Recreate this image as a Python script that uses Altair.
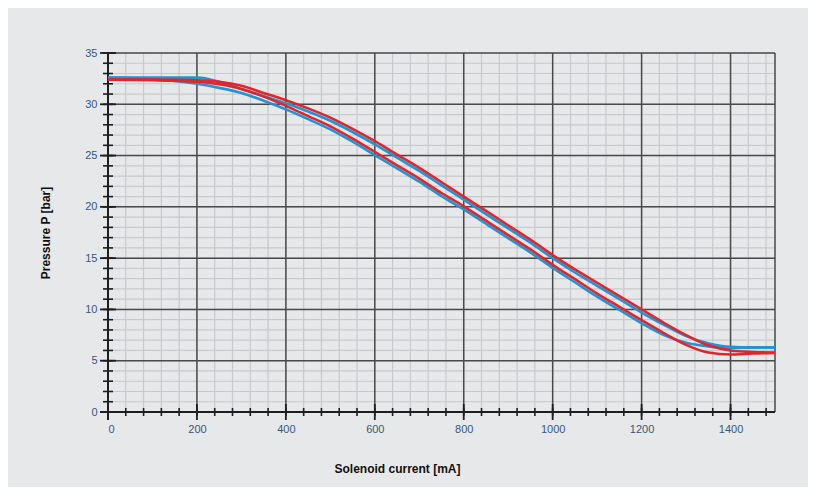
import altair as alt
import pandas as pd

# ---- data ----
current = [0, 100, 200, 250, 300, 350, 400, 450, 500, 550, 600, 650, 700, 750, 800,
           850, 900, 950, 1000, 1050, 1100, 1150, 1200, 1250, 1300, 1350, 1400, 1450, 1500]

red_upper = [32.4, 32.4, 32.35, 32.2, 31.8, 31.1, 30.4, 29.6, 28.7, 27.6, 26.4, 25.1, 23.8, 22.4, 21.0,
             19.6, 18.2, 16.8, 15.3, 13.9, 12.6, 11.3, 10.0, 8.7, 7.5, 6.5, 6.0, 5.85, 5.8]
blue_upper = [32.6, 32.6, 32.6, 32.2, 31.5, 30.8, 30.1, 29.3, 28.4, 27.3, 26.1, 24.8, 23.5, 22.1, 20.7,
              19.3, 17.9, 16.5, 15.0, 13.6, 12.3, 11.0, 9.7, 8.5, 7.4, 6.7, 6.35, 6.3, 6.3]
red_lower = [32.4, 32.35, 32.2, 31.95, 31.5, 30.75, 29.85, 28.85, 27.85, 26.65, 25.35, 24.05, 22.75, 21.35, 20.05,
             18.65, 17.25, 15.85, 14.35, 12.95, 11.55, 10.25, 8.95, 7.7, 6.55, 5.8, 5.6, 5.7, 5.75]
blue_lower = [32.6, 32.45, 32.0, 31.6, 31.1, 30.35, 29.5, 28.55, 27.55, 26.35, 25.05, 23.75, 22.45, 21.05, 19.75,
              18.35, 16.95, 15.55, 14.05, 12.65, 11.25, 9.95, 8.65, 7.5, 6.75, 6.4, 6.25, 6.3, 6.3]

x_labels = [0, 200, 400, 600, 800, 1000, 1200, 1400]
y_labels = [0, 5, 10, 15, 20, 25, 30, 35]
x_minor = list(range(0, 1500, 40))
y_minor = list(range(0, 36, 1))
x_major = [200, 400, 600, 800, 1000, 1200, 1400, 1500]
y_major = [5, 10, 15, 20, 25, 30, 35]

W, H = 667, 359

rows = []
for name, vals in [("red_up", red_upper), ("red_low", red_lower),
                   ("blue_up", blue_upper), ("blue_low", blue_lower)]:
    for c, p in zip(current, vals):
        rows.append({"current": c, "pressure": p, "branch": name})
df = pd.DataFrame(rows)

xs = alt.Scale(domain=[0, 1500], nice=False, zero=True)
ys = alt.Scale(domain=[0, 35], nice=False)

x_axis = alt.Axis(values=x_labels, format="d", grid=False, ticks=False, domain=False, labelPadding=11,
                  labelFontSize=11, labelColor="#34587c", title="Solenoid current [mA]",
                  titleFontSize=12, titleFontWeight="bold", titleColor="#111111",
                  titleX=289, titleY=51, labelFont="Liberation Sans", titleFont="Liberation Sans")
y_axis = alt.Axis(values=y_labels, format="d", grid=False, ticks=False, domain=False, labelPadding=11,
                  labelFontSize=11, labelColor="#34587c", title="Pressure P [bar]",
                  titleFontSize=12, titleFontWeight="bold", titleColor="#111111",
                  titleX=-63, titleY=H / 2, titleBaseline="middle",
                  labelFont="Liberation Sans", titleFont="Liberation Sans")

minor_v = alt.Chart(pd.DataFrame({"v": x_minor})).mark_rule(color="#c6c9cd", strokeWidth=1.2).encode(
    x=alt.X("v:Q", scale=xs, axis=x_axis), y=alt.value(0), y2=alt.value(H))
minor_h = alt.Chart(pd.DataFrame({"v": y_minor})).mark_rule(color="#c6c9cd", strokeWidth=1.2).encode(
    y=alt.Y("v:Q", scale=ys, axis=y_axis), x=alt.value(0), x2=alt.value(W))
major_v = alt.Chart(pd.DataFrame({"v": x_major})).mark_rule(color="#4a4a4a", strokeWidth=1.5).encode(
    x=alt.X("v:Q", scale=xs), y=alt.value(0), y2=alt.value(H))
major_h = alt.Chart(pd.DataFrame({"v": y_major})).mark_rule(color="#4a4a4a", strokeWidth=1.5).encode(
    y=alt.Y("v:Q", scale=ys), x=alt.value(0), x2=alt.value(W))

xt_minor = alt.Chart(pd.DataFrame({"v": x_minor[1:]})).mark_rule(color="#1e1e1e", strokeWidth=1.6).encode(
    x=alt.X("v:Q", scale=xs), y=alt.value(H - 4), y2=alt.value(H + 4))
xt_major = alt.Chart(pd.DataFrame({"v": x_major[:-1]})).mark_rule(color="#1e1e1e", strokeWidth=1.8).encode(
    x=alt.X("v:Q", scale=xs), y=alt.value(H - 8), y2=alt.value(H + 8))
yt_minor = alt.Chart(pd.DataFrame({"v": y_minor[1:]})).mark_rule(color="#1e1e1e", strokeWidth=1.6).encode(
    y=alt.Y("v:Q", scale=ys), x=alt.value(-5), x2=alt.value(5))
yt_major = alt.Chart(pd.DataFrame({"v": y_major})).mark_rule(color="#1e1e1e", strokeWidth=1.8).encode(
    y=alt.Y("v:Q", scale=ys), x=alt.value(-8), x2=alt.value(8))

x_axis_line = alt.Chart(pd.DataFrame({"v": [0]})).mark_rule(color="#1e1e1e", strokeWidth=2).encode(
    y=alt.Y("v:Q", scale=ys), x=alt.value(-8), x2=alt.value(W))
y_axis_line = alt.Chart(pd.DataFrame({"v": [0]})).mark_rule(color="#1e1e1e", strokeWidth=2).encode(
    x=alt.X("v:Q", scale=xs), y=alt.value(0), y2=alt.value(H + 8))

def curve(branches, color):
    return alt.Chart(df[df["branch"].isin(branches)]).mark_line(
        color=color, strokeWidth=2.6, interpolate="monotone").encode(
        x=alt.X("current:Q", scale=xs),
        y=alt.Y("pressure:Q", scale=ys),
        detail="branch:N")

red = curve(["red_up", "red_low"], "#e0262c")
blue = curve(["blue_up", "blue_low"], "#2394d2")

chart = alt.layer(
    minor_v, minor_h, major_v, major_h, xt_minor, xt_major, yt_minor, yt_major,
    x_axis_line, y_axis_line, blue, red
).properties(
    width=W, height=H,
    autosize=alt.AutoSizeParams(type="none"),
    padding={"left": 100, "top": 45, "right": 33, "bottom": 75},
    background="#e7e8ea"
).configure_view(stroke=None, fill="#e7e8ea")

chart.save("out.html", embed_options={"renderer": "svg", "actions": False})
